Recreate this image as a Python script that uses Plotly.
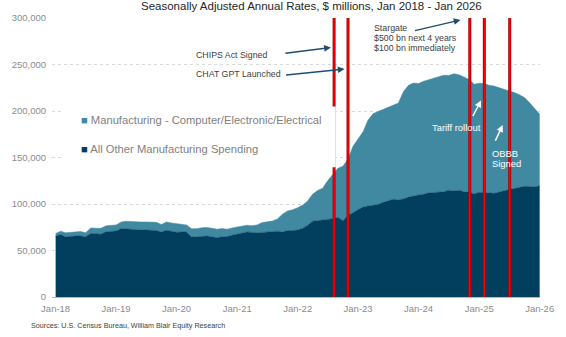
import pandas as pd
import plotly.graph_objects as go

# Monthly construction spending, seasonally adjusted annual rates ($ millions)
months = pd.date_range("2018-01-01", "2026-01-01", freq="MS")

other_mfg = [
    65500, 67300, 64800, 65500, 65500, 65500, 64800, 68400, 68000, 67500, 70100, 70500,   # 2018
    71000, 73600, 73600, 72800, 72500, 72300, 72000, 71700, 71500, 69800, 71900, 70800,   # 2019
    69500, 69800, 69800, 64500, 64800, 65200, 65500, 64800, 63800, 64800, 65000, 66500,   # 2020
    68000, 68800, 69800, 69200, 69100, 69300, 69800, 70500, 70800, 69800, 71500, 71500,   # 2021
    72000, 74000, 77000, 81500, 82300, 82500, 83200, 84200, 85800, 82100, 88000, 90500,   # 2022
    94000, 96800, 97800, 99000, 99500, 101800, 103200, 105000, 104500, 105500, 107500, 108900,  # 2023
    109600, 110500, 112000, 112400, 112800, 113100, 114900, 114000, 114900, 113100, 113100, 110800,  # 2024
    112600, 112000, 111300, 111500, 112800, 114500, 115500, 116600, 117800, 119000, 118800, 118400,  # 2025
    119500,                                                                                # Jan 2026
]

computer_elec = [
    2900, 3500, 4200, 4000, 5000, 5000, 4200, 5900, 6000, 6300, 6400, 6500,               # 2018
    6500, 7100, 7800, 8400, 8200, 8400, 8700, 8800, 8800, 8100, 8800, 8800,               # 2019
    9400, 8800, 7700, 9000, 8600, 9300, 9300, 9200, 9100, 8800, 7900, 7800,               # 2020
    7300, 6900, 7400, 7400, 8400, 10700, 11200, 11100, 13200, 19200, 21000, 22200,        # 2021
    24000, 25000, 26000, 29000, 32200, 34500, 41800, 47300, 52700, 58400, 60300, 71500,   # 2022
    76000, 81200, 92200, 98000, 99900, 100000, 100400, 101200, 104000, 115100, 120100, 121200,  # 2023
    120000, 121500, 121500, 123100, 123600, 125400, 123300, 126000, 124000, 123300, 120900, 117900,  # 2024
    117200, 117500, 116500, 115300, 112400, 109000, 106500, 103200, 99700, 95500, 90200, 84600,  # 2025
    77000,                                                                                 # Jan 2026
]

series_names = [
    "All Other Manufacturing Spending",
    "Manufacturing - Computer/Electronic/Electrical",
]
series_colors = ["#023E5E", "#4189A1"]

# Policy / industry events marked with vertical lines
event_dates = ["2022-08-09", "2022-11-01", "2024-11-05", "2025-02-01", "2025-07-04"]

y_ticks = [0, 50000, 100000, 150000, 200000, 250000, 300000]
x_ticks = pd.date_range("2018-01-01", "2026-01-01", freq="YS")

title_text = "Seasonally Adjusted Annual Rates, $ millions, Jan 2018 - Jan 2026"
source_text = "Sources: U.S. Census Bureau, William Blair Equity Research"

FONT = "Liberation Sans, Arial, sans-serif"

# Plot-area geometry (pixels) used to place callouts
W_FIG, H_FIG = 566, 337
L, R, T, B = 52, 549, 13, 297
TEXT_NUDGE = 2.5  # raise text so glyph centres sit on the target line


def px_x(x):
    return (x - L) / (R - L)


def px_y(y):
    return (B - y) / (B - T)


fig = go.Figure()
for name, vals, col in zip(series_names, [other_mfg, computer_elec], series_colors):
    fig.add_trace(go.Scatter(
        x=months, y=vals, name=name, mode="lines",
        stackgroup="one", line=dict(width=0.5, color=col),
        fillcolor=col, hoverinfo="skip", showlegend=False,
    ))

shapes = []
for d in event_dates:
    shapes.append(dict(type="line", xref="x", yref="paper", x0=d, x1=d, y0=0, y1=1,
                       line=dict(color="#B00000", width=3), layer="above"))
    shapes.append(dict(type="line", xref="x", yref="paper", x0=d, x1=d, y0=0, y1=1,
                       line=dict(color="#FF0000", width=1.3), layer="above"))

# white key box
shapes.append(dict(type="rect", xref="paper", yref="paper",
                   x0=px_x(63), x1=px_x(341), y0=px_y(165), y1=px_y(103),
                   fillcolor="white", line=dict(width=0), layer="above"))

annotations = []


def label(x, y, text, size, color, anchor="left"):
    annotations.append(dict(xref="paper", yref="paper", x=px_x(x), y=px_y(y - TEXT_NUDGE),
                            xanchor=anchor, yanchor="middle", showarrow=False,
                            text=text, align="left",
                            font=dict(family=FONT, size=size, color=color)))


def arrow(tail, head, color):
    annotations.append(dict(xref="paper", yref="paper", x=px_x(head[0]), y=px_y(head[1]),
                            ax=tail[0] - head[0], ay=tail[1] - head[1],
                            axref="pixel", ayref="pixel", text="", showarrow=True,
                            arrowhead=2, arrowsize=0.9, arrowwidth=1.5,
                            arrowcolor=color))


label(316, 3.5, title_text, 11.5, "#262626", anchor="center")
label(29, 329, source_text, 7.2, "#404040")

# key
for (name, col), yy in zip(zip(series_names[::-1], series_colors[::-1]), [119, 149]):
    label(80, yy, f'<span style="color:{col}">■</span> {name}', 11.2, "#7F7F7F")

dark_txt = "#404040"
navy_arrow = "#1F4E6E"
label(197, 53, "CHIPS Act Signed", 8.8, dark_txt)
arrow((289, 49), (336, 43), navy_arrow)
label(197, 73, "CHAT GPT Launched", 8.8, dark_txt)
arrow((290, 71), (350, 65), navy_arrow)

label(378, 26, "Stargate", 8.8, dark_txt)
label(378, 36, "$500 bn next 4 years", 8.8, dark_txt)
label(378, 46, "$100 bn immediately", 8.8, dark_txt)
arrow((421, 26), (468, 15), navy_arrow)

label(437, 127, "Tariff rollout", 9.4, "white")
arrow((480, 114), (489, 97), "white")
label(498, 153, "OBBB", 9.4, "white")
label(498, 164, "Signed", 9.4, "white")
arrow((503, 139), (511, 122), "white")

fig.update_layout(
    width=W_FIG, height=H_FIG,
    margin=dict(l=L, r=W_FIG - R, t=T, b=H_FIG - B, pad=0),
    paper_bgcolor="white", plot_bgcolor="white",
    font=dict(family=FONT, color="#8C8C8C"),
    shapes=shapes, annotations=annotations,
    showlegend=False,
)
fig.update_xaxes(
    range=["2017-12-10", "2026-01-03"],
    tickvals=x_ticks, tickformat="%b-%y",
    tickfont=dict(size=9.5, color="#8C8C8C"),
    showgrid=False, zeroline=False,
    showline=True, linecolor="#AEBBC8", linewidth=1.2,
    ticks="", ticklabelstandoff=2,
)
fig.update_yaxes(
    range=[0, 300000], tickvals=y_ticks, tickformat=",",
    tickfont=dict(size=9.5, color="#8C8C8C"),
    showgrid=True, gridcolor="#D9D9D9", griddash="3px,3px", gridwidth=1,
    zeroline=False, showline=False, ticks="", ticklabelstandoff=5,
)

fig.write_html("out.html")
